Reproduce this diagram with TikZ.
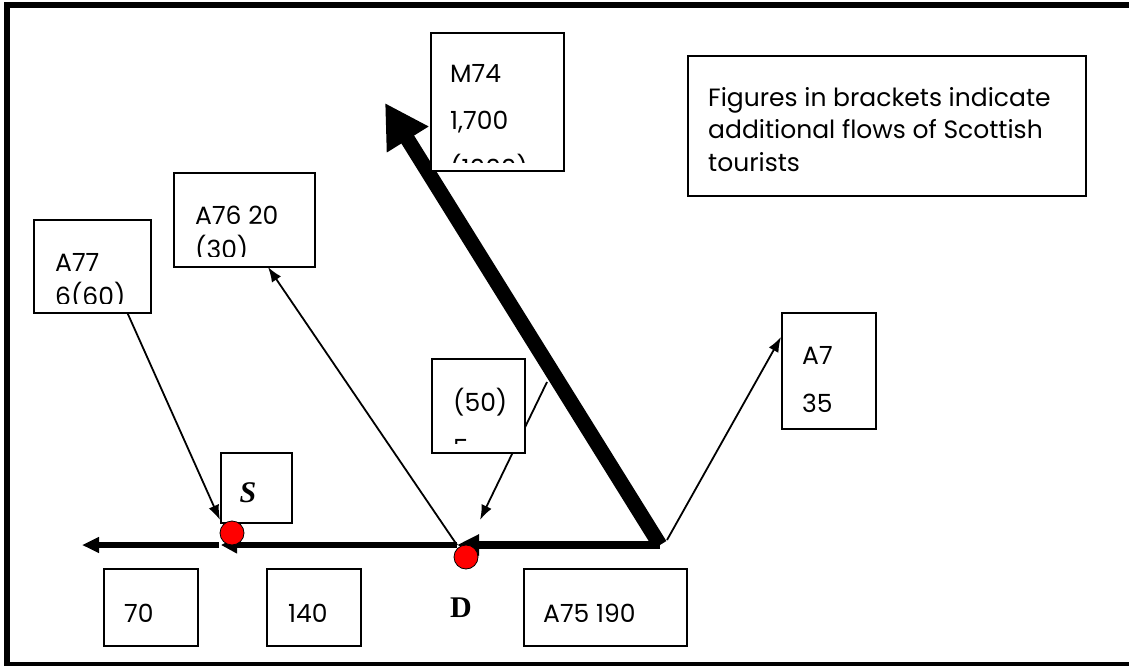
\documentclass[tikz,border=0pt]{standalone}
\usepackage{fontspec}
\setmainfont{Poppins}
\newfontfamily\tmsfont{Liberation Serif}
\usetikzlibrary{arrows.meta,positioning,calc}

\begin{document}
\begin{tikzpicture}[x=1pt,y=-1pt,>={Latex[length=15pt,width=11pt]},font=\fontsize{25}{29}\selectfont,
  box/.style={draw,line width=1.6pt,fill=white,inner sep=0pt,anchor=north west},
  txt/.style={anchor=base west,inner sep=0pt},
  flow/.style={->,line width=1.8pt},
  town/.style={circle,draw,line width=0.8pt,fill=red,minimum size=24pt,inner sep=0pt},
  letter/.style={font=\tmsfont\bfseries\fontsize{30}{33}\selectfont,inner sep=0pt}]
  \useasboundingbox (0,0) rectangle (1129,666);
  % cornice
  \draw[line width=6pt] (1140,5.5) -- (7,5.5) -- (7,665) -- (1140,665);
  % punti
  \coordinate (jn) at (660,545);
  \coordinate (dp) at (457,545);
  \coordinate (sp) at (221,545);
  \coordinate (wend) at (82,545);
  \coordinate (m74tip) at (385,103);
  \coordinate (a7from) at (667,540);
  \coordinate (a7tip) at (781,337);
  \coordinate (a76tip) at (268,267);
  \coordinate (a77from) at (127,312);
  \coordinate (a77tip) at (220,520);
  \coordinate (d50from) at (547,382);
  \coordinate (d50tip) at (480,520);
  % flussi
  \draw[line width=15pt,-{Triangle[length=43pt,width=46pt]}] (jn) -- (m74tip);
  \draw[line width=8pt,-{Triangle[length=22pt,width=20pt]}] (jn) -- (dp);
  \draw[line width=6pt,-{Triangle[length=16pt,width=16pt]}] (dp) -- (sp);
  \draw[line width=6pt,-{Triangle[length=17pt,width=15pt]}] (219,545) -- (wend);
  \draw[flow] (a7from) -- (a7tip);
  \draw[flow] (dp) -- (a76tip);
  \draw[flow] (a77from) -- (a77tip);
  \draw[flow] (d50from) -- (d50tip);
  % riquadri
  \node[box,minimum width=133pt,minimum height=138pt] (m74) at (430,32) {};
  \begin{scope}
    \clip (m74.north west) rectangle ($(m74.south east)+(0,-9)$);
    \node[txt] (m74a) at (450,83) {M74};
    \node[txt] (m74b) at (450,130) {1,700};
    \node[txt] (m74c) at (450,177) {(1000)};
  \end{scope}
  \node[box,minimum width=117pt,minimum height=93pt] (a77) at (33,219) {};
  \begin{scope}
    \clip (a77.north west) rectangle ($(a77.south east)+(0,-10)$);
    \node[txt] (a77a) at (55,271) {A77};
    \node[txt] (a77b) at (55,305) {6(60)};
  \end{scope}
  \node[box,minimum width=141pt,minimum height=94pt] (a76) at (173,172) {};
  \begin{scope}
    \clip (a76.north west) rectangle ($(a76.south east)+(0,-11)$);
    \node[txt] (a76a) at (195,224) {A76 20};
    \node[txt] (a76b) at (195,258) {(30)};
  \end{scope}
  \node[box,minimum width=93pt,minimum height=94pt] (d50) at (431,358) {};
  \begin{scope}
    \clip (d50.north west) rectangle ($(d50.south east)+(0,-10)$);
    \node[txt] (d50a) at (453,411) {(50)};
    \node[txt] (d50b) at (453,457) {5};
  \end{scope}
  \node[box,minimum width=94pt,minimum height=116pt] (a7) at (781,312) {};
  \node[txt] (a7a) at (802,364) {A7};
  \node[txt] (a7b) at (802,412) {35};
  \node[box,minimum width=398pt,minimum height=140pt] (note) at (687,55) {};
  \node[txt] (note1) at (708,107) {Figures in brackets indicate};
  \node[txt] (note2) at (708,139) {additional flows of Scottish};
  \node[txt] (note3) at (708,171) {tourists};
  \node[box,minimum width=71pt,minimum height=70pt] (sbox) at (220,452) {};
  \node[letter,font=\tmsfont\bfseries\itshape\fontsize{30}{33}\selectfont] (slab) at (248,493) {S};
  \node[box,minimum width=94pt,minimum height=77pt] (b70) at (103,568) {};
  \node[txt] (b70t) at (124,622) {70};
  \node[box,minimum width=94pt,minimum height=77pt] (b140) at (266,568) {};
  \node[txt] (b140t) at (288,622) {140};
  \node[box,minimum width=163pt,minimum height=77pt] (a75) at (523,568) {};
  \node[txt] (a75t) at (543,622) {A75 190};
  \node[letter] (dlab) at (461,608) {D};
  % citta
  \node[town] (sdot) at (232,533) {};
  \node[town] (ddot) at (466,557) {};
\end{tikzpicture}
\end{document}
